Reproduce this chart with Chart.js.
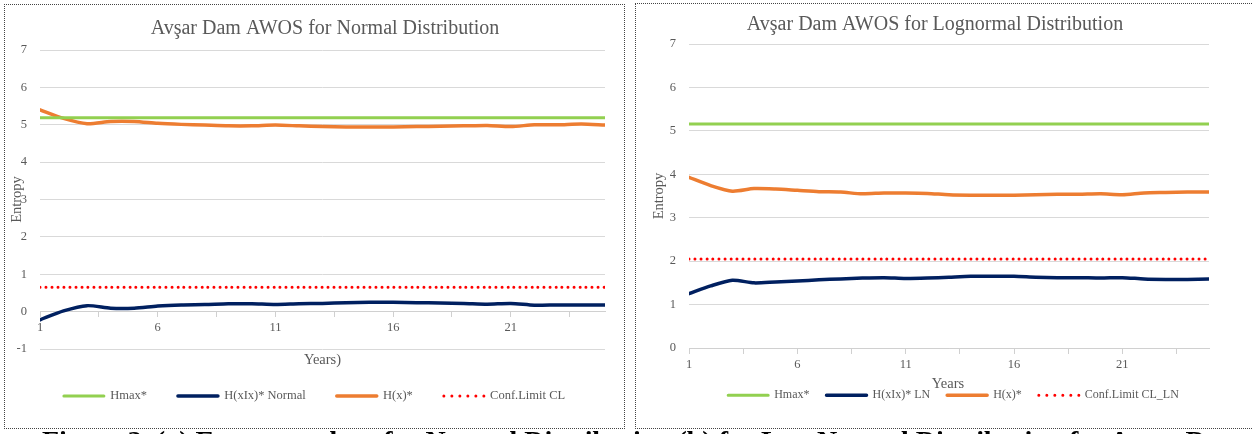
<!DOCTYPE html>
<html>
<head>
<meta charset="utf-8">
<script src="https://cdn.jsdelivr.net/npm/chart.js@4/dist/chart.umd.min.js"></script>
<style>
html,body{margin:0;padding:0;background:#fff;}
body{width:1253px;height:434px;overflow:hidden;position:relative;}
.box{position:absolute;border:1px dotted #444;background:#fff;}
#boxA{left:4px;top:4px;width:619px;height:423px;}
#boxB{left:635px;top:3px;width:635px;height:424px;}
canvas{display:block;}
#caption{position:absolute;left:42px;top:425px;font:bold 28px "Liberation Serif","Times New Roman",serif;color:#000;white-space:nowrap;z-index:3;}
</style>
</head>
<body>
<div class="box" id="boxA"><canvas id="chartA" width="619" height="423"></canvas></div>
<div class="box" id="boxB"><canvas id="chartB" width="635" height="424"></canvas></div>
<div id="caption">Figure 3. (a) Entropy values for Normal Distribution (b) for Log-Normal Distribution for Avşar Dam AWOS</div>
<script>
// ---- data ----
const years = [1,2,3,4,5,6,7,8,9,10,11,12,13,14,15,16,17,18,19,20,21,22,23,24,25];
const tickLabels = ['1','6','11','16','21'];

const hmaxNormal = [5.19,5.19,5.19,5.19,5.19,5.19,5.19,5.19,5.19,5.19,5.19,5.19,5.19,5.19,5.19,5.19,5.19,5.19,5.19,5.19,5.19,5.19,5.19,5.19,5.19];
const hxixNormal = [-0.22,0.02,0.16,0.09,0.09,0.15,0.18,0.19,0.21,0.21,0.19,0.21,0.22,0.24,0.25,0.25,0.24,0.23,0.22,0.20,0.22,0.17,0.18,0.18,0.18];
const hxNormal   = [5.40,5.17,5.03,5.09,5.09,5.04,5.01,4.99,4.97,4.97,4.99,4.97,4.95,4.94,4.94,4.94,4.95,4.96,4.97,4.98,4.95,5.00,5.00,5.02,4.99];
const clNormal   = [0.65,0.65,0.65,0.65,0.65,0.65,0.65,0.65,0.65,0.65,0.65,0.65,0.65,0.65,0.65,0.65,0.65,0.65,0.65,0.65,0.65,0.65,0.65,0.65,0.65];

const hmaxLN = [5.16,5.16,5.16,5.16,5.16,5.16,5.16,5.16,5.16,5.16,5.16,5.16,5.16,5.16,5.16,5.16,5.16,5.16,5.16,5.16,5.16,5.16,5.16,5.16,5.16];
const hxixLN = [1.25,1.43,1.56,1.50,1.52,1.54,1.57,1.59,1.61,1.62,1.60,1.61,1.63,1.65,1.65,1.65,1.63,1.62,1.62,1.61,1.62,1.59,1.58,1.58,1.59];
const hxLN   = [3.93,3.74,3.61,3.67,3.66,3.63,3.60,3.59,3.55,3.57,3.57,3.56,3.53,3.52,3.52,3.52,3.53,3.54,3.54,3.55,3.53,3.57,3.58,3.59,3.59];
const clLN   = [2.05,2.05,2.05,2.05,2.05,2.05,2.05,2.05,2.05,2.05,2.05,2.05,2.05,2.05,2.05,2.05,2.05,2.05,2.05,2.05,2.05,2.05,2.05,2.05,2.05];

// ---- styling ----
const FAMILY = "'Liberation Serif','Times New Roman',serif";
const GREY = '#595959';
const GRID = '#D9D9D9';

const tickValues = [];
for (let v = years[0]; v < years[years.length - 1]; v += 2.5) tickValues.push(v);

const pts = arr => arr.map((v, i) => ({x: years[i], y: v}));

function makeDatasets(names, series) {
  const colors = ['#92D050', '#002060', '#ED7D31', '#FF0000'];
  const widths = [3, 3.5, 3.5, 3];
  return names.map((n, k) => ({
    label: n,
    data: pts(series[k]),
    borderColor: colors[k],
    backgroundColor: colors[k],
    borderWidth: widths[k],
    borderDash: k === 3 ? [0, 6] : [],
    borderCapStyle: 'round',
    borderJoinStyle: 'round',
    pointRadius: 0,
    tension: 0.25,
    fill: false
  }));
}

const textPlugin = {
  id: 'extraText',
  afterDraw(chart, args, opts) {
    const {ctx, chartArea} = chart;
    ctx.save();
    (opts.items || []).forEach(t => {
      ctx.font = t.font;
      ctx.fillStyle = GREY;
      ctx.textAlign = 'center';
      ctx.textBaseline = 'middle';
      const cx = (chartArea.left + chartArea.right) / 2 + t.dx;
      const cy = t.fromBottom ? chartArea.bottom + t.dy : t.dy;
      ctx.fillText(t.text, cx, cy);
    });
    ctx.restore();
  }
};

function legendLabels(chart) {
  return Chart.defaults.plugins.legend.labels.generateLabels(chart).map(l =>
    (l.lineDash && l.lineDash.length) ? Object.assign({}, l, {lineDash: [0, 8], fillStyle: 'rgba(0,0,0,0)'}) : l);
}

function makeChart(id, cfg) {
  return new Chart(document.getElementById(id), {
    type: 'line',
    data: {datasets: makeDatasets(cfg.names, cfg.series)},
    plugins: [textPlugin],
    options: {
      responsive: false,
      animation: false,
      devicePixelRatio: 1,
      layout: {padding: 0},
      plugins: {
        tooltip: {enabled: false},
        title: {display: false},
        legend: {
          position: 'bottom',
          title: {display: true, text: '', font: {size: 1}, padding: {top: cfg.legendShift, bottom: 0}},
          labels: {
            usePointStyle: false, boxWidth: 40, boxHeight: 0,
            generateLabels: legendLabels,
            padding: cfg.legendPad, color: GREY,
            font: {family: FAMILY, size: cfg.legendFont}
          }
        },
        extraText: {items: [
          {text: cfg.title, font: '20px ' + FAMILY, dx: cfg.titleDx, dy: cfg.titleY},
          {text: cfg.xTitle, font: '14.5px ' + FAMILY, dx: cfg.xTitleDx, dy: cfg.xTitleDy, fromBottom: true}
        ]}
      },
      scales: {
        x: {
          type: 'linear',
          position: {y: 0},
          min: years[0], max: years[years.length - 1],
          afterBuildTicks: s => { s.ticks = tickValues.map(v => ({value: v})); },
          ticks: {
            autoSkip: false, maxRotation: 0, padding: 4, color: GREY,
            font: {family: FAMILY, size: 12.5},
            callback: v => (tickLabels.includes(String(v)) ? String(v) : '')
          },
          grid: {drawOnChartArea: false, drawTicks: true, tickLength: 5, color: '#D0D0D0'},
          border: {display: true, color: '#D0D0D0', width: 1}
        },
        y: {
          min: cfg.yMin, max: cfg.yMax,
          ticks: {stepSize: 1, padding: 13, color: GREY, font: {family: FAMILY, size: 12.5}},
          grid: {color: GRID, drawTicks: false, lineWidth: 1},
          border: {display: false},
          title: {display: true, text: 'Entropy', color: GREY,
                  font: {family: FAMILY, size: 14.5}, padding: {top: cfg.yTitlePad, bottom: 0}},
          afterFit: s => {
            s.width = cfg.area.left;
            s.paddingTop = cfg.area.top;
            s.paddingBottom = cfg.area.bottom;
            s.paddingRight = cfg.area.right;
          }
        }
      }
    }
  });
}

makeChart('chartA', {
  names: ['Hmax*', 'H(xIx)* Normal', 'H(x)*', 'Conf.Limit CL'],
  series: [hmaxNormal, hxixNormal, hxNormal, clNormal],
  title: 'Avşar Dam AWOS for Normal Distribution', titleDx: 2.5, titleY: 24,
  xTitle: 'Years)', xTitleDx: 0, xTitleDy: 11,
  yMin: -1, yMax: 7, yTitlePad: 3.3,
  area: {left: 35, top: 45, bottom: 79, right: 19},
  legendPad: 31, legendFont: 12.5, legendShift: 8.5
});

makeChart('chartB', {
  names: ['Hmax*', 'H(xIx)* LN', 'H(x)*', 'Conf.Limit CL_LN'],
  series: [hmaxLN, hxixLN, hxLN, clLN],
  title: 'Avşar Dam AWOS for Lognormal Distribution', titleDx: -14, titleY: 21,
  xTitle: 'Years', xTitleDx: -1, xTitleDy: 36,
  yMin: 0, yMax: 7, yTitlePad: 14.3,
  area: {left: 53, top: 40, bottom: 80, right: 62},
  legendPad: 17, legendFont: 12, legendShift: 23
});
</script>
</body>
</html>
